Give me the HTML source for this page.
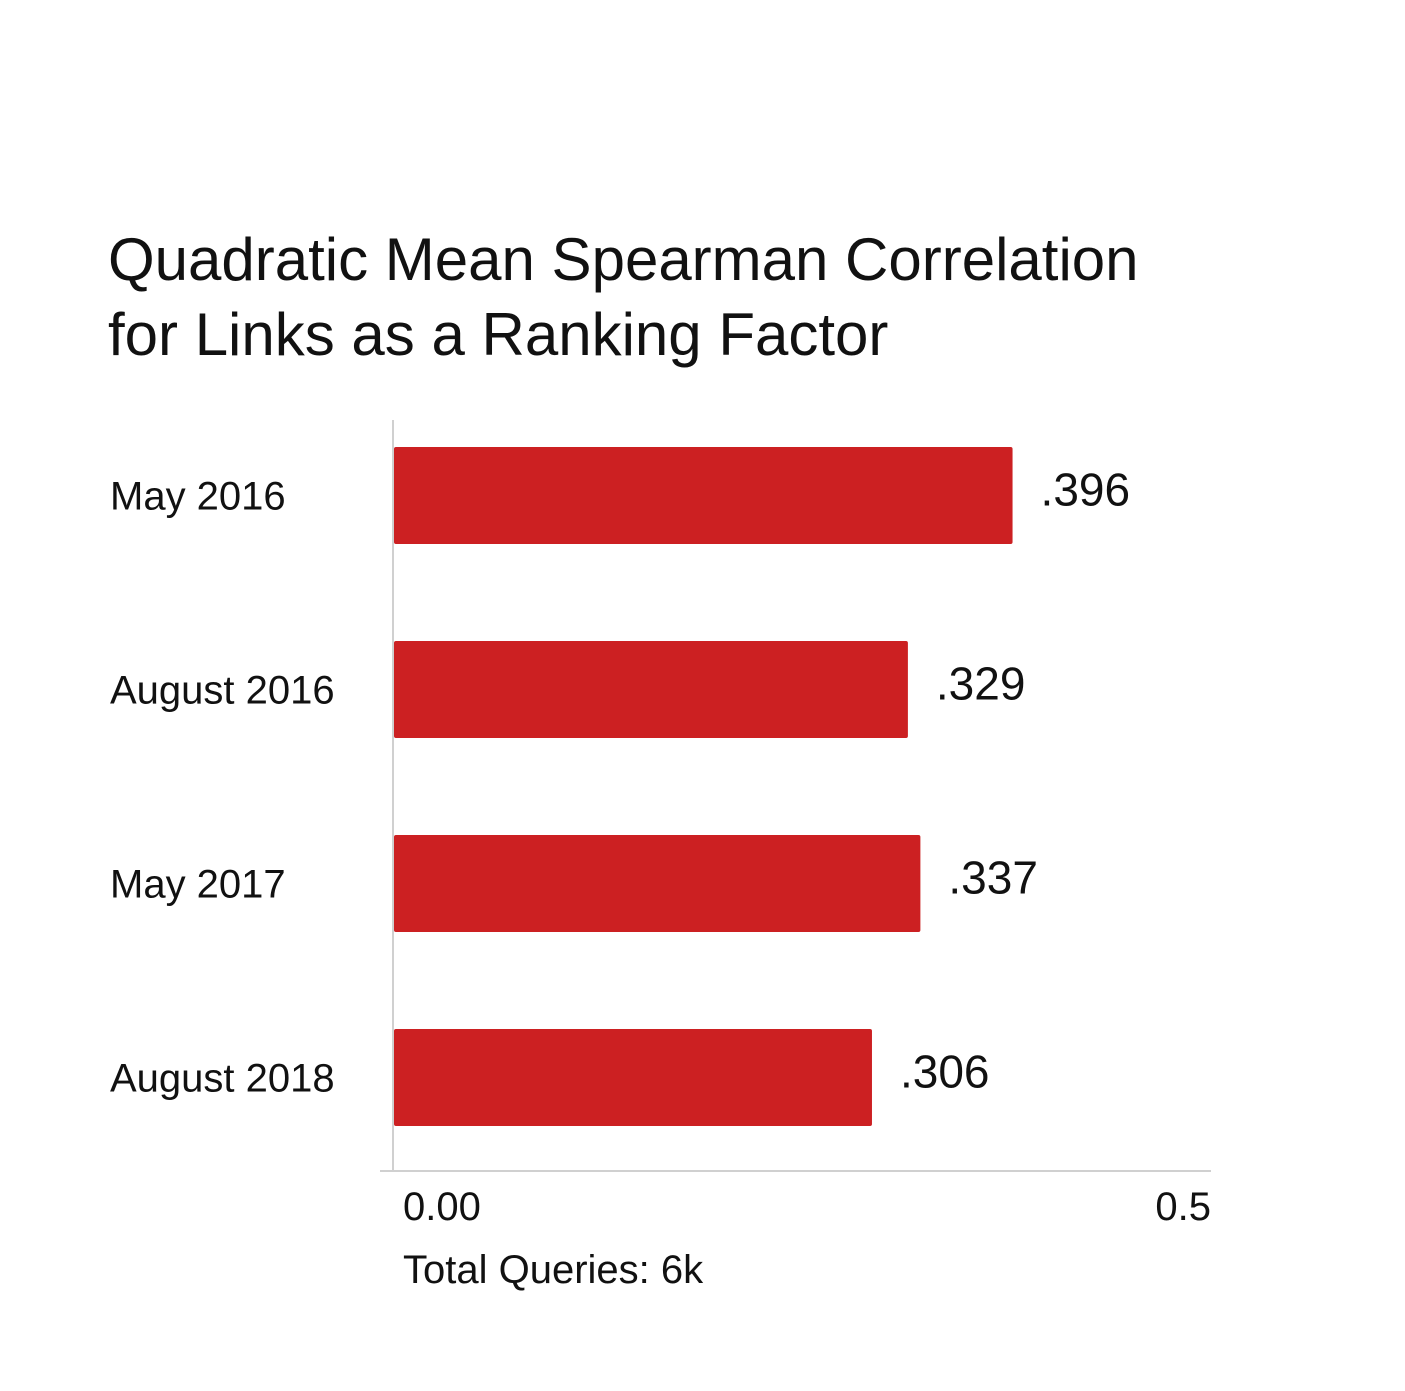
<!DOCTYPE html>
<html><head><meta charset="utf-8"><style>
body{margin:0;background:#fff;}
svg text{font-family:"Liberation Sans",sans-serif;fill:#111;}
</style></head><body>
<svg id="chart" width="1405" height="1386">
<text x="108" y="280" font-size="60" font-weight="300">Quadratic Mean Spearman Correlation</text>
<text x="108" y="355" font-size="60" font-weight="300">for Links as a Ranking Factor</text>
<line x1="393" y1="420" x2="393" y2="1171" stroke="#d0d0d0" stroke-width="2"/>
<line x1="380" y1="1171" x2="1211" y2="1171" stroke="#d0d0d0" stroke-width="2"/>
<g id="bars"></g>
<text x="403" y="1220" font-size="40">0.00</text>
<text x="1211" y="1220" font-size="40" text-anchor="end">0.5</text>
<text x="403" y="1283" font-size="40">Total Queries: 6k</text>
</svg>
<script>
const categories=["May 2016","August 2016","May 2017","August 2018"];
const values=[0.396,0.329,0.337,0.306];
const valueLabels=[".396",".329",".337",".306"];
const x0=394,scale=1562,top0=447,step=194,barH=97;
function xs(v){return x0+v*scale;}
function ys(i){return top0+i*step;}
const g=document.getElementById('bars');
const ns="http://www.w3.org/2000/svg";
categories.forEach((c,i)=>{
  const r=document.createElementNS(ns,'rect');
  r.setAttribute('x',x0);r.setAttribute('y',ys(i));
  r.setAttribute('width',xs(values[i])-x0);r.setAttribute('height',barH);
  r.setAttribute('fill','#cc2022');r.setAttribute('rx','2');
  
  
  g.appendChild(r);
  const t=document.createElementNS(ns,'text');
  t.setAttribute('x',110);t.setAttribute('y',ys(i)+barH/2+14);
  t.setAttribute('font-size','40');t.textContent=c;
  
  
  g.appendChild(t);
  const v=document.createElementNS(ns,'text');
  v.setAttribute('x',xs(values[i])+28);v.setAttribute('y',ys(i)+barH/2+10);
  v.setAttribute('font-size','46');v.textContent=valueLabels[i];
  
  
  g.appendChild(v);
});
</script>
</body></html>
